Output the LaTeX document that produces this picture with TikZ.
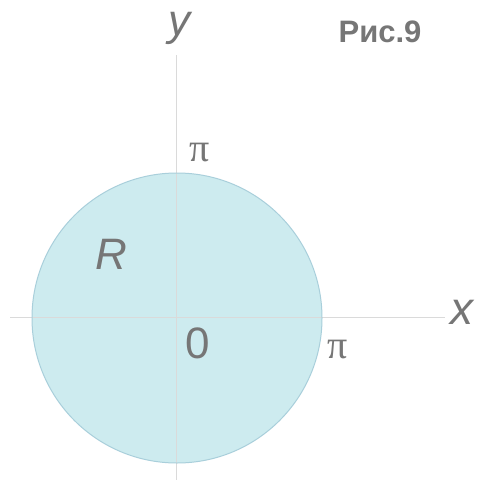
\documentclass[tikz,border=0pt]{standalone}
\usepackage{fontspec}
\setmainfont{Liberation Sans}
\newfontfamily\serifpi{Liberation Serif}
\definecolor{regfill}{HTML}{CDEBEF}
\definecolor{regedge}{HTML}{A9CFDB}
\definecolor{axisgray}{HTML}{DADADA}
\definecolor{txtgray}{HTML}{767676}
\begin{document}
\begin{tikzpicture}[x=1pt,y=-1pt,
  axis/.style={draw=axisgray,line width=0.8pt},
  lbl/.style={text=txtgray,inner sep=0pt,font=\fontsize{44}{44}\selectfont},
  pilbl/.style={text=txtgray,inner sep=0pt,font=\serifpi\fontsize{40}{40}\selectfont}]
\useasboundingbox (0,0) rectangle (481,482);
\fill[white] (0,0) rectangle (481,482);
\coordinate (O) at (177,318);
\fill[regfill] (O) circle (145);
\coordinate (xl) at (10,317);
\coordinate (xr) at (445,317);
\coordinate (yt) at (176,55);
\coordinate (yb) at (176,480);
\draw[axis] (xl) -- (xr);
\draw[axis] (yt) -- (yb);
\draw[regedge,line width=1pt] (O) circle (145);
\node[lbl,font=\itshape\fontsize{44}{44}\selectfont] (ylab) at (179,28) {y};
\node[lbl,font=\itshape\fontsize{46}{46}\selectfont] (xlab) at (462,312) {x};
\node[lbl,font=\itshape\fontsize{44}{44}\selectfont] (R) at (111,254) {R};
\node[lbl] (zero) at (198,343) {0};
\node[pilbl] (pitop) at (200,153) {π};
\node[pilbl] (piright) at (338,350) {π};
\node[text=txtgray,inner sep=0pt,font=\bfseries\fontsize{31}{31}\selectfont] (title) at (380,32) {Рис.9};
\end{tikzpicture}
\end{document}
